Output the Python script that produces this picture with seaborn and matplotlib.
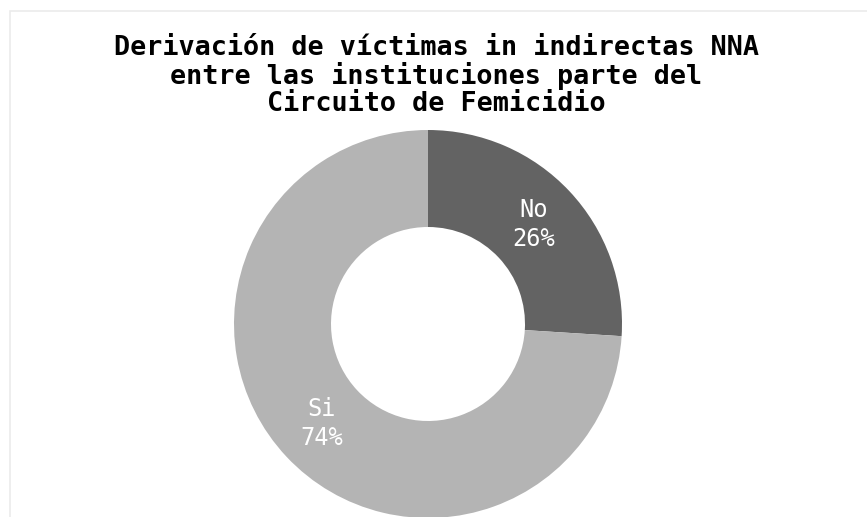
import matplotlib
matplotlib.use('Agg')
import matplotlib.pyplot as plt
from matplotlib.patches import Rectangle
import seaborn as sns

# Data
categories = ['No', 'Si']
values = [26, 74]
colors = ['#636363', '#b4b4b4']
title = 'Derivación de víctimas in indirectas NNA\nentre las instituciones parte del\nCircuito de Femicidio'

sns.set_theme(style='white')
plt.rcParams['font.family'] = ['DejaVu Sans Mono', 'DejaVu Sans']

fig = plt.figure(figsize=(8.67, 5.17), dpi=100)
W, H = 867, 517

# light frame around the chart area
fig.patches.append(Rectangle((10 / W, -0.05), 1.0, (517 - 11) / H + 0.05,
                             transform=fig.transFigure, fill=False,
                             edgecolor='#ebebeb', linewidth=1.2))

# donut axes: center (428, 324), radius 194 px
R = 194
ax = fig.add_axes([(428 - R) / W, (H - 324 - R) / H, 2 * R / W, 2 * R / H])
labels = [f'{c}\n{v}%' for c, v in zip(categories, values)]
wedges, texts = ax.pie(values, labels=labels, colors=colors, startangle=90,
                       counterclock=False, labeldistance=0.75,
                       wedgeprops=dict(width=0.5, edgecolor='none'),
                       textprops=dict(color='white', fontsize=17, linespacing=1.3))
for t in texts:
    t.set_ha('center')
    t.set_va('center')
ax.set_xlim(-1, 1)
ax.set_ylim(-1, 1)
ax.set_aspect('equal')
ax.axis('off')

fig.text(436 / W, 1 - 76 / H, title, ha='center', va='center',
         fontsize=19.3, fontweight='bold', linespacing=1.05, color='black')

fig.savefig('out.png', dpi=100)
